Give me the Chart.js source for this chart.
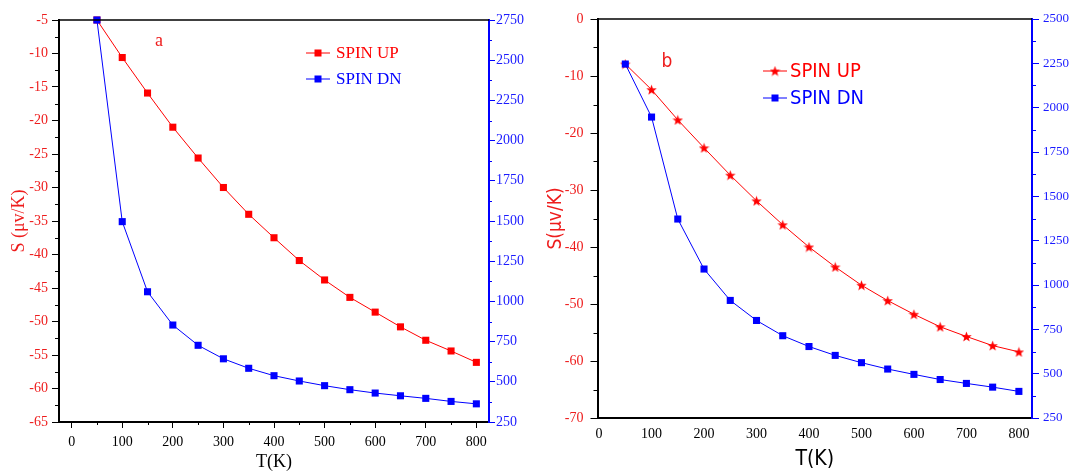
<!DOCTYPE html>
<html>
<head>
<meta charset="utf-8">
<script src="https://cdn.jsdelivr.net/npm/chart.js@4.4.1/dist/chart.umd.min.js"></script>
<style>
  html, body { margin: 0; padding: 0; background: #fff; }
  .panel { position: absolute; top: 0; width: 535px; height: 471px; }
  #pa { left: 0; }
  #pb { left: 535px; }
</style>
</head>
<body>
<div class="panel" id="pa"><canvas id="chartA" width="535" height="471"></canvas></div>
<div class="panel" id="pb"><canvas id="chartB" width="535" height="471"></canvas></div>
<script>
// temperatures (K)
const temps = [50, 100, 150, 200, 250, 300, 350, 400, 450, 500, 550, 600, 650, 700, 750, 800];

// panel a
const spinUpA = [-5.0, -10.6, -15.9, -21.0, -25.6, -30.0, -34.0, -37.5, -40.9, -43.8, -46.4, -48.6, -50.8, -52.8, -54.4, -56.1];
const spinDnA = [2750, 1496, 1060, 853, 727, 643, 584, 538, 505, 476, 451, 430, 413, 397, 378, 363];

// panel b
const spinUpB = [-7.9, -12.4, -17.7, -22.6, -27.4, -31.9, -36.1, -40.0, -43.5, -46.7, -49.4, -51.8, -54.0, -55.7, -57.3, -58.4];
const spinDnB = [2246, 1947, 1372, 1090, 913, 800, 714, 653, 603, 562, 526, 496, 467, 445, 424, 400];

// tick labels
const xTicks = [0, 100, 200, 300, 400, 500, 600, 700, 800];
const leftTicksA = [-5, -10, -15, -20, -25, -30, -35, -40, -45, -50, -55, -60, -65];
const rightTicksA = [250, 500, 750, 1000, 1250, 1500, 1750, 2000, 2250, 2500, 2750];
const leftTicksB = [0, -10, -20, -30, -40, -50, -60, -70];
const rightTicksB = [250, 500, 750, 1000, 1250, 1500, 1750, 2000, 2250, 2500];

const RED = '#ff0000';
const BLUE = '#0000ff';
const RED_TXT = '#ee1c1c';
const BLUE_TXT = '#1a1aff';
const SERIF = '"Liberation Serif", "Times New Roman", serif';
const NARROW = '"Liberation Sans Narrow", "Arial Narrow", "DejaVu Sans Condensed", "Liberation Sans", sans-serif';

function starImage(size, color) {
  const c = document.createElement('canvas');
  c.width = size; c.height = size;
  const g = c.getContext('2d');
  const R = size / 2, r = R * 0.42;
  g.fillStyle = color;
  g.beginPath();
  for (let i = 0; i < 10; i++) {
    const rad = i % 2 ? r : R;
    const a = -Math.PI / 2 + i * Math.PI / 5;
    g.lineTo(R + rad * Math.cos(a), R + R * 0.1 + rad * Math.sin(a));
  }
  g.closePath();
  g.fill();
  return c;
}
const star = starImage(11, RED);

const pts = (vals) => temps.map((t, i) => ({ x: t, y: vals[i] }));
const fixTicks = (arr) => (s) => { s.ticks = arr.map(v => ({ value: v })); };
const plain = (v) => String(v);

// minor ticks half way between the major ones, plus frame top line, legend and panel letter
function decor(spec) {
  return {
    id: 'decor',
    afterDraw(chart) {
      const ctx = chart.ctx;
      const a = chart.chartArea;
      ctx.save();
      // top frame
      ctx.strokeStyle = '#000';
      ctx.lineWidth = 1.5;
      ctx.beginPath();
      ctx.moveTo(a.left, a.top);
      ctx.lineTo(a.right, a.top);
      ctx.stroke();
      // minor ticks
      for (const id in spec.minor) {
        const m = spec.minor[id];
        const s = chart.scales[id];
        const vals = s.ticks.map(t => t.value).sort((p, q) => p - q);
        ctx.strokeStyle = m.color;
        ctx.lineWidth = 1;
        ctx.beginPath();
        for (let i = 0; i < vals.length - 1; i++) {
          const v = (vals[i] + vals[i + 1]) / 2;
          const p = Math.round(s.getPixelForValue(v)) + 0.5;
          if (s.isHorizontal()) {
            ctx.moveTo(p, a.bottom); ctx.lineTo(p, a.bottom + m.len);
          } else if (s.position === 'left') {
            ctx.moveTo(a.left - m.len, p); ctx.lineTo(a.left, p);
          } else {
            ctx.moveTo(a.right, p); ctx.lineTo(a.right + m.len, p);
          }
        }
        ctx.stroke();
      }
      // legend
      const L = spec.legend;
      chart.data.datasets.forEach((ds, i) => {
        const y = L.y + i * L.gap;
        ctx.strokeStyle = ds.borderColor;
        ctx.lineWidth = 1;
        ctx.beginPath();
        ctx.moveTo(L.x, y); ctx.lineTo(L.x + L.w, y);
        ctx.stroke();
        const cx = L.x + L.w / 2;
        if (ds.pointStyle instanceof HTMLCanvasElement) {
          ctx.drawImage(ds.pointStyle, cx - ds.pointStyle.width / 2, y - ds.pointStyle.height / 2);
        } else {
          ctx.fillStyle = ds.backgroundColor;
          ctx.fillRect(cx - 3.5, y - 3.5, 7, 7);
        }
        ctx.fillStyle = ds.borderColor;
        ctx.font = L.font;
        ctx.textAlign = 'left';
        ctx.textBaseline = 'middle';
        ctx.fillText(ds.label, L.x + L.w + L.sp, y + 1);
      });
      // panel letter
      ctx.fillStyle = RED_TXT;
      ctx.font = spec.letter.font;
      ctx.textAlign = 'center';
      ctx.textBaseline = 'middle';
      ctx.fillText(spec.letter.text, spec.letter.x, spec.letter.y);
      ctx.restore();
    }
  };
}

function series(label, vals, axis, color, style, order) {
  return {
    label: label,
    data: pts(vals),
    yAxisID: axis,
    borderColor: color,
    backgroundColor: color,
    borderWidth: 1,
    pointStyle: style,
    pointRadius: 5,
    pointBorderWidth: 0,
    pointHoverRadius: 5,
    tension: 0,
    clip: false,
    order: order
  };
}

// ---------- panel a ----------
new Chart(document.getElementById('chartA'), {
  type: 'line',
  data: {
    datasets: [
      series('SPIN UP', spinUpA, 'y', RED, 'rect', 1),
      series('SPIN DN', spinDnA, 'y1', BLUE, 'rect', 0)
    ]
  },
  options: {
    responsive: false,
    animation: false,
    devicePixelRatio: 1,
    layout: { padding: { top: 20, left: 0, right: 0, bottom: 0 } },
    plugins: { legend: { display: false }, tooltip: { enabled: false } },
    scales: {
      x: {
        type: 'linear', min: -25, max: 825,
        afterBuildTicks: fixTicks(xTicks),
        afterFit: s => { s.height = 49; },
        ticks: { color: '#000', font: { family: SERIF, size: 14 }, padding: 6, maxRotation: 0, callback: plain },
        grid: { drawOnChartArea: false, tickLength: 6, color: '#000', tickWidth: 1 },
        border: { color: '#000', width: 2 },
        title: { display: true, text: 'T(K)', color: '#000', font: { family: SERIF, size: 18, lineHeight: 1 }, padding: { top: 0, bottom: 0 } }
      },
      y: {
        type: 'linear', position: 'left', min: -65, max: -5,
        afterBuildTicks: fixTicks(leftTicksA),
        afterFit: s => { s.width = 59; },
        ticks: { color: RED_TXT, font: { family: SERIF, size: 14 }, padding: 4, callback: plain },
        grid: { drawOnChartArea: false, tickLength: 7, color: '#000', tickWidth: 1 },
        border: { color: '#000', width: 2 },
        title: { display: true, text: 'S (\u03BCv/K)', color: RED_TXT, font: { family: SERIF, size: 18, lineHeight: 1 }, padding: { top: 10, bottom: 0 } }
      },
      y1: {
        type: 'linear', position: 'right', min: 250, max: 2750,
        afterBuildTicks: fixTicks(rightTicksA),
        afterFit: s => { s.width = 46; },
        ticks: { color: BLUE_TXT, font: { family: SERIF, size: 14 }, padding: 1, callback: plain },
        grid: { drawOnChartArea: false, tickLength: 6, color: BLUE, tickWidth: 1 },
        border: { color: BLUE, width: 2 }
      }
    }
  },
  plugins: [decor({
    minor: { x: { len: 3, color: '#000' }, y: { len: 4, color: '#000' }, y1: { len: 3, color: BLUE } },
    legend: { x: 306, y: 53, gap: 26, w: 24, sp: 6, font: '17px ' + SERIF },
    letter: { text: 'a', x: 159, y: 41, font: '18px ' + SERIF }
  })]
});

// ---------- panel b ----------
new Chart(document.getElementById('chartB'), {
  type: 'line',
  data: {
    datasets: [
      series('SPIN UP', spinUpB, 'y', RED, star, 1),
      series('SPIN DN', spinDnB, 'y1', BLUE, 'rect', 0)
    ]
  },
  options: {
    responsive: false,
    animation: false,
    devicePixelRatio: 1,
    layout: { padding: { top: 19, left: 0, right: 0, bottom: 0 } },
    plugins: { legend: { display: false }, tooltip: { enabled: false } },
    scales: {
      x: {
        type: 'linear', min: -3, max: 825,
        afterBuildTicks: fixTicks(xTicks),
        afterFit: s => { s.height = 53; },
        ticks: { color: '#000', font: { family: SERIF, size: 14 }, padding: 8, maxRotation: 0, callback: plain },
        grid: { drawOnChartArea: false, drawTicks: false, color: '#000' },
        border: { color: '#000', width: 2 },
        title: { display: true, text: 'T(K)', color: '#000', font: { family: NARROW, size: 21, lineHeight: 1 }, padding: { top: 0, bottom: 1 } }
      },
      y: {
        type: 'linear', position: 'left', min: -70, max: 0,
        afterBuildTicks: fixTicks(leftTicksB),
        afterFit: s => { s.width = 62.5; },
        ticks: { color: RED_TXT, font: { family: SERIF, size: 14 }, padding: 7, callback: plain },
        grid: { drawOnChartArea: false, tickLength: 7, color: '#000', tickWidth: 1 },
        border: { color: '#000', width: 2 },
        title: { display: true, text: 'S(\u03BCv/K)', color: RED_TXT, font: { family: NARROW, size: 19, lineHeight: 1 }, padding: { top: 12, bottom: 0 } }
      },
      y1: {
        type: 'linear', position: 'right', min: 250, max: 2500,
        afterBuildTicks: fixTicks(rightTicksB),
        afterFit: s => { s.width = 38; },
        ticks: { color: BLUE_TXT, font: { family: SERIF, size: 13 }, padding: 4, callback: plain },
        grid: { drawOnChartArea: false, tickLength: 7, color: BLUE, tickWidth: 1 },
        border: { color: BLUE, width: 2 }
      }
    }
  },
  plugins: [decor({
    minor: { y: { len: 4, color: '#000' }, y1: { len: 4, color: BLUE } },
    legend: { x: 228, y: 71, gap: 27, w: 24, sp: 3, font: '20px ' + NARROW },
    letter: { text: 'b', x: 132, y: 62, font: '19px ' + NARROW }
  })]
});
</script>
</body>
</html>
